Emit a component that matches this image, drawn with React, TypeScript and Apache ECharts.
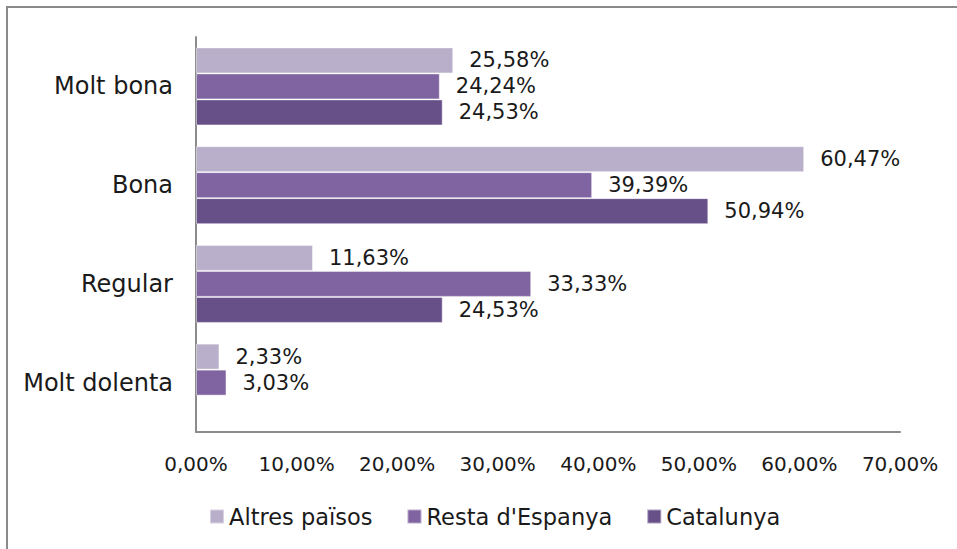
import React, { useEffect, useRef } from "react";
import * as echarts from "echarts";

const categories = ["Molt bona", "Bona", "Regular", "Molt dolenta"];
const altresPaisos = [25.58, 60.47, 11.63, 2.33];
const restaEspanya = [24.24, 39.39, 33.33, 3.03];
const catalunya: (number | null)[] = [24.53, 50.94, 24.53, null];
const seriesNames = ["Altres països", "Resta d'Espanya", "Catalunya"];
const colors = ["#B9AFCA", "#8064A2", "#674F88"];

const FONT = "DejaVu Sans";
const fmt = (v: number) => v.toFixed(2).replace(".", ",") + "%";

export default function App() {
  const ref = useRef<HTMLDivElement>(null);
  useEffect(() => {
    const chart = echarts.init(ref.current!, null, { renderer: "svg" });
    const data = [altresPaisos, restaEspanya, catalunya];
    chart.setOption({
      animation: false,
      backgroundColor: "#ffffff",
      textStyle: { fontFamily: FONT },
      graphic: [
        {
          type: "rect",
          shape: { x: 7, y: 7, width: 1100, height: 700 },
          style: { fill: "none", stroke: "#8a8a8a", lineWidth: 2 },
          silent: true,
        },
      ],
      grid: { left: 196, top: 37, width: 704, height: 395, containLabel: false },
      legend: {
        left: 204,
        top: 500,
        itemWidth: 14,
        itemHeight: 14,
        itemGap: 34,
        icon: "rect",
        textStyle: { fontFamily: FONT, fontSize: 22.5, color: "#1a1a1a" },
        data: seriesNames,
      },
      xAxis: {
        type: "value",
        min: 0,
        max: 70,
        interval: 10,
        axisLine: { show: true, lineStyle: { color: "#8c8c8c", width: 2 } },
        axisTick: { show: false },
        splitLine: { show: false },
        axisLabel: {
          margin: 22,
          fontFamily: FONT,
          fontSize: 20,
          color: "#1a1a1a",
          formatter: (v: number) => fmt(v),
        },
      },
      yAxis: {
        type: "category",
        inverse: true,
        data: categories,
        axisLine: { show: true, lineStyle: { color: "#8c8c8c", width: 2 } },
        axisTick: { show: false },
        axisLabel: { margin: 23, fontFamily: FONT, fontSize: 24, color: "#1a1a1a" },
      },
      series: seriesNames.map((name, i) => ({
        name,
        type: "bar",
        data: data[i],
        barWidth: 26,
        barGap: "0%",
        itemStyle: { color: colors[i], borderColor: "rgba(255,255,255,0.45)", borderWidth: 1 },
        label: {
          show: true,
          position: "right",
          distance: 16,
          fontFamily: FONT,
          fontSize: 21,
          color: "#1a1a1a",
          formatter: (p: any) => (p.value == null ? "" : fmt(p.value)),
        },
      })),
    });
    return () => chart.dispose();
  }, []);
  return (
    <div
      ref={ref}
      style={{ position: "absolute", left: 0, top: 0, width: 957, height: 549 }}
    />
  );
}
